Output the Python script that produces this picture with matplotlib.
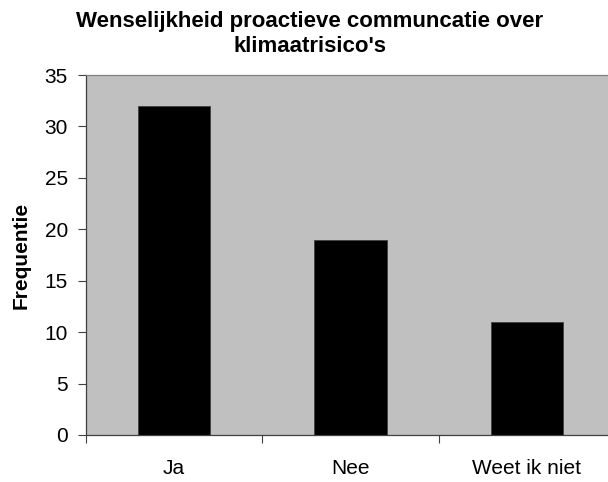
import matplotlib.pyplot as plt
import numpy as np

plt.rcParams['font.family'] = ['Liberation Sans', 'DejaVu Sans']

# answers to the survey question
categories = ['Ja', 'Nee', 'Weet ik niet']
counts = [32, 19, 11]

fig = plt.figure(figsize=(6.08, 4.82), dpi=100)
ax = fig.add_axes([86 / 608, 47 / 482, 529 / 608, 360 / 482])

x = np.arange(len(categories))
ax.bar(x, counts, width=0.41, color='black', edgecolor='#404040', linewidth=0.6, zorder=2)

ax.set_facecolor('#c0c0c0')
ax.set_xlim(-0.5, len(categories) - 0.5)
ax.set_ylim(0, 35)
ax.set_yticks(range(0, 36, 5))

# category labels sit between the boundary ticks
ax.set_xticks(x)
ax.set_xticklabels(categories)
ax.set_xticks(np.arange(-0.5, len(categories), 1), minor=True)
ax.tick_params(axis='x', which='major', length=0, pad=17, labelsize=15)
ax.tick_params(axis='x', which='minor', length=6, width=0.8, color='#404040')
ax.tick_params(axis='y', length=6, width=0.8, color='#404040', pad=7, labelsize=15)

for side in ['top', 'right']:
    ax.spines[side].set_color('#808080')
for side in ['left', 'bottom']:
    ax.spines[side].set_color('#404040')
for s in ax.spines.values():
    s.set_linewidth(0.9)

ax.set_ylabel('Frequentie', fontweight='bold', fontsize=15, labelpad=10)
fig.text(310 / 608, 1 - 34 / 482, "Wenselijkheid proactieve communcatie over\nklimaatrisico's",
         ha='center', va='center', fontweight='bold', fontsize=16, linespacing=1.2)

fig.savefig('out.png', dpi=100)
